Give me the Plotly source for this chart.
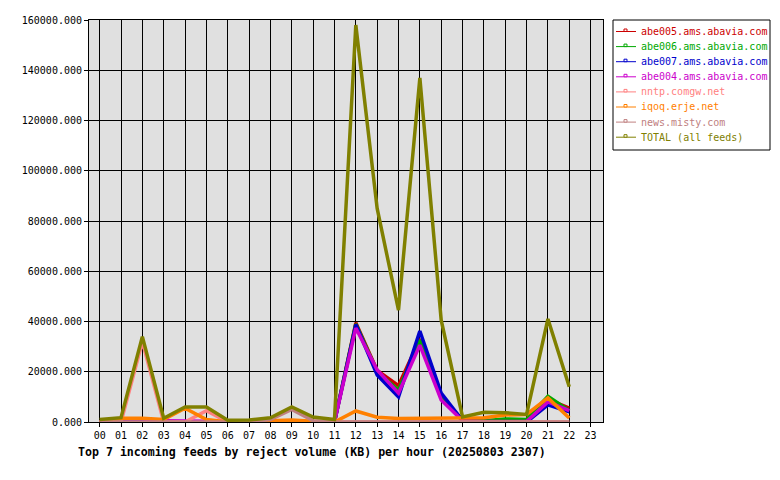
import plotly.graph_objects as go

hours = ["%02d" % h for h in range(24)]
data_hours = hours[:23]

abe005 = [0, 0, 0, 0, 300, 300, 0, 0, 0, 0, 0, 0, 39500, 20500, 14500, 33000, 10000, 800, 300, 500, 500, 9000, 5500]
abe006 = [0, 0, 0, 0, 300, 300, 0, 0, 0, 0, 0, 0, 39000, 20000, 12700, 32600, 9500, 800, 500, 1200, 1000, 10200, 4500]
abe007 = [0, 0, 0, 0, 300, 300, 0, 0, 0, 0, 0, 0, 38800, 18700, 10000, 36200, 11500, 600, 0, 0, 0, 6800, 4000]
abe004 = [0, 0, 0, 500, 500, 300, 0, 0, 0, 0, 0, 0, 37400, 20700, 11500, 30600, 8800, 500, 200, 200, 200, 8000, 4500]
nntp = [0, 0, 32000, 0, 0, 4500, 0, 0, 0, 0, 0, 0, 0, 0, 0, 0, 0, 0, 0, 0, 0, 0, 0]
iqoq = [0, 1500, 1500, 1000, 5500, 1000, 0, 200, 300, 800, 300, 0, 4400, 1900, 1400, 1400, 1400, 1500, 1700, 2800, 3000, 9600, 1600]
misty = [0, 0, 0, 0, 0, 0, 0, 0, 1000, 5000, 500, 0, 0, 0, 0, 0, 0, 0, 0, 0, 0, 0, 0]
total = [1000, 1700, 34000, 1500, 6000, 6000, 700, 800, 1700, 6000, 2000, 1000, 158000, 85000, 44500, 137000, 40500, 2000, 3900, 3700, 3000, 41000, 14000]

names = ["abe005.ams.abavia.com", "abe006.ams.abavia.com", "abe007.ams.abavia.com",
         "abe004.ams.abavia.com", "nntp.comgw.net", "iqoq.erje.net", "news.misty.com",
         "TOTAL (all feeds)"]
series = [abe005, abe006, abe007, abe004, nntp, iqoq, misty, total]
colors = ["#cc0000", "#00a800", "#0000cc", "#cc00cc", "#ff8080", "#ff8000", "#c08080", "#808000"]

# page offset of the figure div (body margin)
OFF = 8
# plot area geometry (page pixels)
L, R, T, B = 89, 603, 20, 422
W, H = R - L, B - T


def px(x):
    return (x - L) / W


def py(y):
    return (B - y) / H


fig = go.Figure()
for name, vals, col in zip(names, series, colors):
    fig.add_trace(go.Scatter(x=data_hours, y=vals, mode="lines", name=name,
                             line=dict(color=col, width=3.5), showlegend=False))

shapes = [dict(type="rect", xref="paper", yref="paper",
               x0=px(613), x1=px(770), y0=py(150), y1=py(20),
               line=dict(color="black", width=1), fillcolor="white", layer="above")]
annotations = []
for i, (name, col) in enumerate(zip(names, colors)):
    yc = 31.5 + i * 15.1
    shapes.append(dict(type="line", xref="paper", yref="paper",
                       x0=px(616), x1=px(636), y0=py(yc), y1=py(yc),
                       line=dict(color=col, width=1), layer="above"))
    shapes.append(dict(type="rect", xref="paper", yref="paper",
                       x0=px(624), x1=px(627), y0=py(yc), y1=py(yc - 2.5),
                       line=dict(color=col, width=1), fillcolor="white", layer="above"))
    annotations.append(dict(text=name, x=px(639), y=py(yc), xref="paper", yref="paper",
                            xanchor="left", yanchor="middle", showarrow=False,
                            font=dict(family="DejaVu Sans Mono", size=10, color=col)))

annotations.append(dict(text="<b>Top 7 incoming feeds by reject volume (KB) per hour (20250803 2307)</b>",
                        x=px(76), y=py(452), xref="paper", yref="paper",
                        xanchor="left", yanchor="middle", showarrow=False,
                        font=dict(family="DejaVu Sans Mono", size=11.6, color="black")))

fig.update_layout(
    width=780, height=480,
    margin=dict(l=L - OFF, r=780 - R + OFF, t=T - OFF, b=480 - B + OFF, autoexpand=False),
    paper_bgcolor="white", plot_bgcolor="#e0e0e0",
    font=dict(family="DejaVu Sans Mono", size=10, color="black"),
    showlegend=False,
    shapes=shapes,
    annotations=annotations,
)
fig.update_xaxes(type="category", categoryorder="array", categoryarray=hours,
                 range=[-0.5, 23.58], showgrid=True, gridcolor="black", gridwidth=1,
                 showline=True, linecolor="black", linewidth=1, mirror=True,
                 ticks="outside", ticklen=4, tickcolor="black", zeroline=False,
                 automargin=False)
fig.update_yaxes(range=[0, 160000], dtick=20000, tickformat=".3f",
                 showgrid=True, gridcolor="black", gridwidth=1,
                 showline=True, linecolor="black", linewidth=1, mirror=True,
                 ticks="outside", ticklen=4, tickcolor="black", zeroline=False,
                 automargin=False)

fig.write_html("out.html")
